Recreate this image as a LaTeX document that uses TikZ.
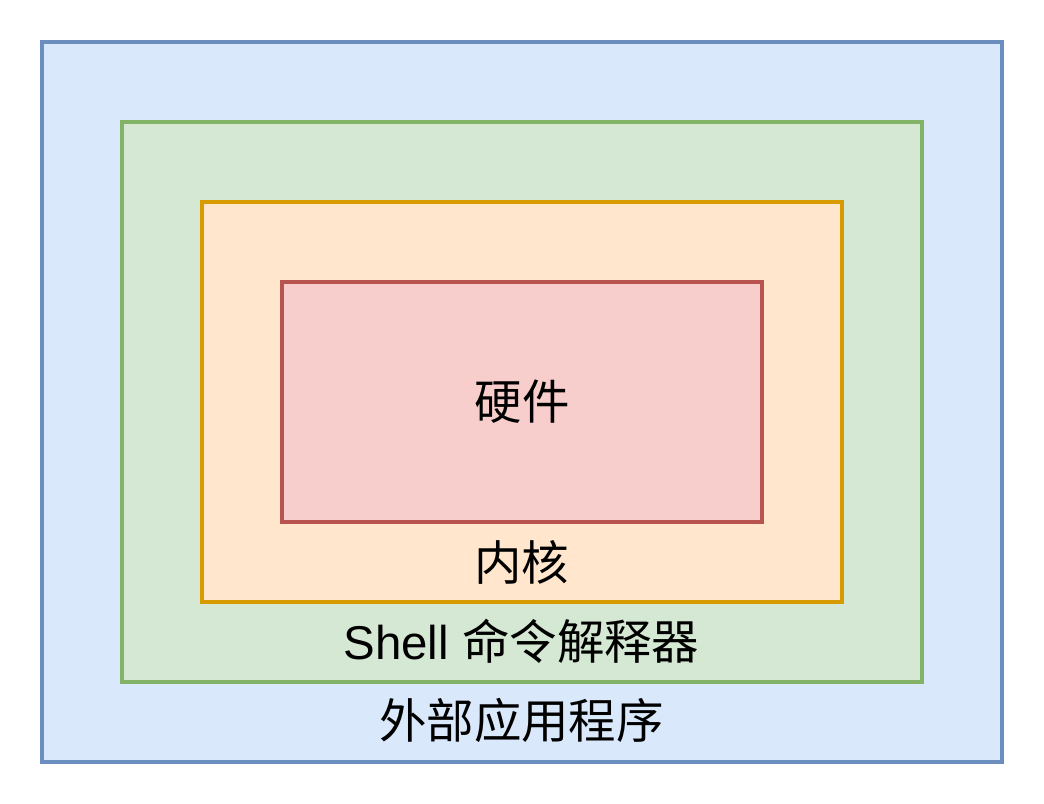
\documentclass[tikz,border=0pt]{standalone}
\usepackage{fontspec}
\setmainfont{Liberation Sans}
\newfontfamily\cjk{Noto Sans CJK SC}
\usetikzlibrary{positioning}
\definecolor{appFill}{HTML}{DAE8FC}
\definecolor{appLine}{HTML}{6C8EBF}
\definecolor{shellFill}{HTML}{D5E8D4}
\definecolor{shellLine}{HTML}{82B366}
\definecolor{kernelFill}{HTML}{FFE6CC}
\definecolor{kernelLine}{HTML}{D79B00}
\definecolor{hwFill}{HTML}{F8CECC}
\definecolor{hwLine}{HTML}{B85450}
\tikzset{
  layer/.style={rectangle, line width=2.2pt, inner sep=0pt},
  caption/.style={inner sep=0pt, font=\fontsize{27}{31}\selectfont}
}

\begin{document}
\begin{tikzpicture}[x=0.02cm,y=-0.02cm]
  \useasboundingbox (0,0) rectangle (1044,804);

  \node[layer, draw=appLine, fill=appFill, minimum width=19.2cm, minimum height=14.4cm] (app) at (522,402) {};
  \node[layer, draw=shellLine, fill=shellFill, minimum width=16cm, minimum height=11.2cm] (shell) at (522,402) {};
  \node[layer, draw=kernelLine, fill=kernelFill, minimum width=12.8cm, minimum height=8cm] (kernel) at (522,402) {};
  \node[layer, draw=hwLine, fill=hwFill, minimum width=9.6cm, minimum height=4.8cm] (hw) at (522,402) {};

  \node[caption] (hwText) at (hw.center) {\cjk 硬件};
  \node[caption] (kernelText) at (521.5,562) {\cjk 内核};
  \node[caption] (shellText) at (521.5,641) {Shell {\cjk 命令解释器}};
  \node[caption] (appText) at (521.5,720) {\cjk 外部应用程序};
\end{tikzpicture}
\end{document}
